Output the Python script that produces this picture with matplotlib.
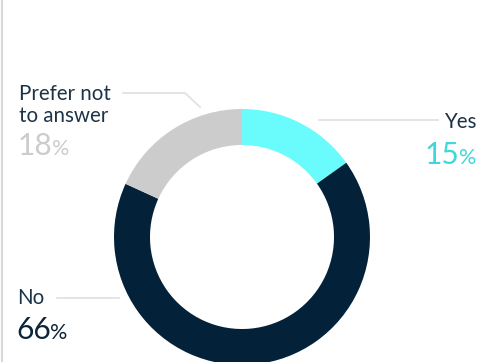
import matplotlib
matplotlib.use("Agg")
import matplotlib.pyplot as plt

# Survey answers
categories = ["Yes", "No", "Prefer not\nto answer"]
shares = [15, 66, 18]
ring_colors = ["#6AFCFC", "#03223A", "#CCCCCC"]
value_colors = ["#3DD8DC", "#0B2438", "#CCCCCC"]
text_color = "#1C3347"
line_color = "#E2E2E2"

W, H = 492, 362
fig = plt.figure(figsize=(W / 100, H / 100), dpi=100)
ax = fig.add_axes([0, 0, 1, 1])

def py(y):
    # convert a top-down pixel row to the axes' bottom-up coordinate
    return H - y

ax.pie(shares, colors=ring_colors, startangle=90, counterclock=False,
       center=(242, py(237)), radius=128,
       wedgeprops=dict(width=36, edgecolor="none", linewidth=0))
ax.set_xlim(0, W)
ax.set_ylim(0, H)
ax.set_aspect("equal")
ax.axis("off")

# left border rule
ax.plot([1.5, 1.5], [0, H], color="#D6D8DE", lw=1.5, solid_capstyle="butt")

# leader lines
ax.plot([123, 185, 200], [py(93), py(93), py(107)], color=line_color, lw=1.3)
ax.plot([319, 438], [py(120), py(120)], color=line_color, lw=1.3)
ax.plot([57, 119], [py(298), py(298)], color=line_color, lw=1.3)

font = "Lato"
label_size = 14.8
num_size = 21.5
pct_size = 15.5

renderer = fig.canvas.get_renderer()

def value_text(x, y, value, color, align):
    """Draw the number with a smaller percent sign on the same baseline."""
    if align == "left":
        t = ax.text(x, py(y), str(value), fontsize=num_size, family=font,
                    color=color, ha="left", va="baseline")
        bb = t.get_window_extent(renderer)
        ax.text(bb.x1 - 0.5, py(y), "%", fontsize=pct_size, family=font,
                color=color, ha="left", va="baseline")
    else:
        p = ax.text(x, py(y), "%", fontsize=pct_size, family=font,
                    color=color, ha="right", va="baseline")
        bb = p.get_window_extent(renderer)
        ax.text(bb.x0 + 0.5, py(y), str(value), fontsize=num_size, family=font,
                color=color, ha="right", va="baseline")

# Yes
ax.text(476, py(128), categories[0], fontsize=label_size, family=font,
        color=text_color, ha="right", va="baseline")
value_text(476, 164, shares[0], value_colors[0], "right")

# No
ax.text(17, py(304), categories[1], fontsize=label_size, family=font,
        color=text_color, ha="left", va="baseline")
value_text(16, 339, shares[1], value_colors[1], "left")

# Prefer not to answer
lines = categories[2].split("\n")
ax.text(19, py(100), lines[0], fontsize=label_size, family=font,
        color=text_color, ha="left", va="baseline")
ax.text(19, py(122), lines[1], fontsize=label_size, family=font,
        color=text_color, ha="left", va="baseline")
value_text(18, 155, shares[2], value_colors[2], "left")

fig.savefig("out.png", dpi=100)
